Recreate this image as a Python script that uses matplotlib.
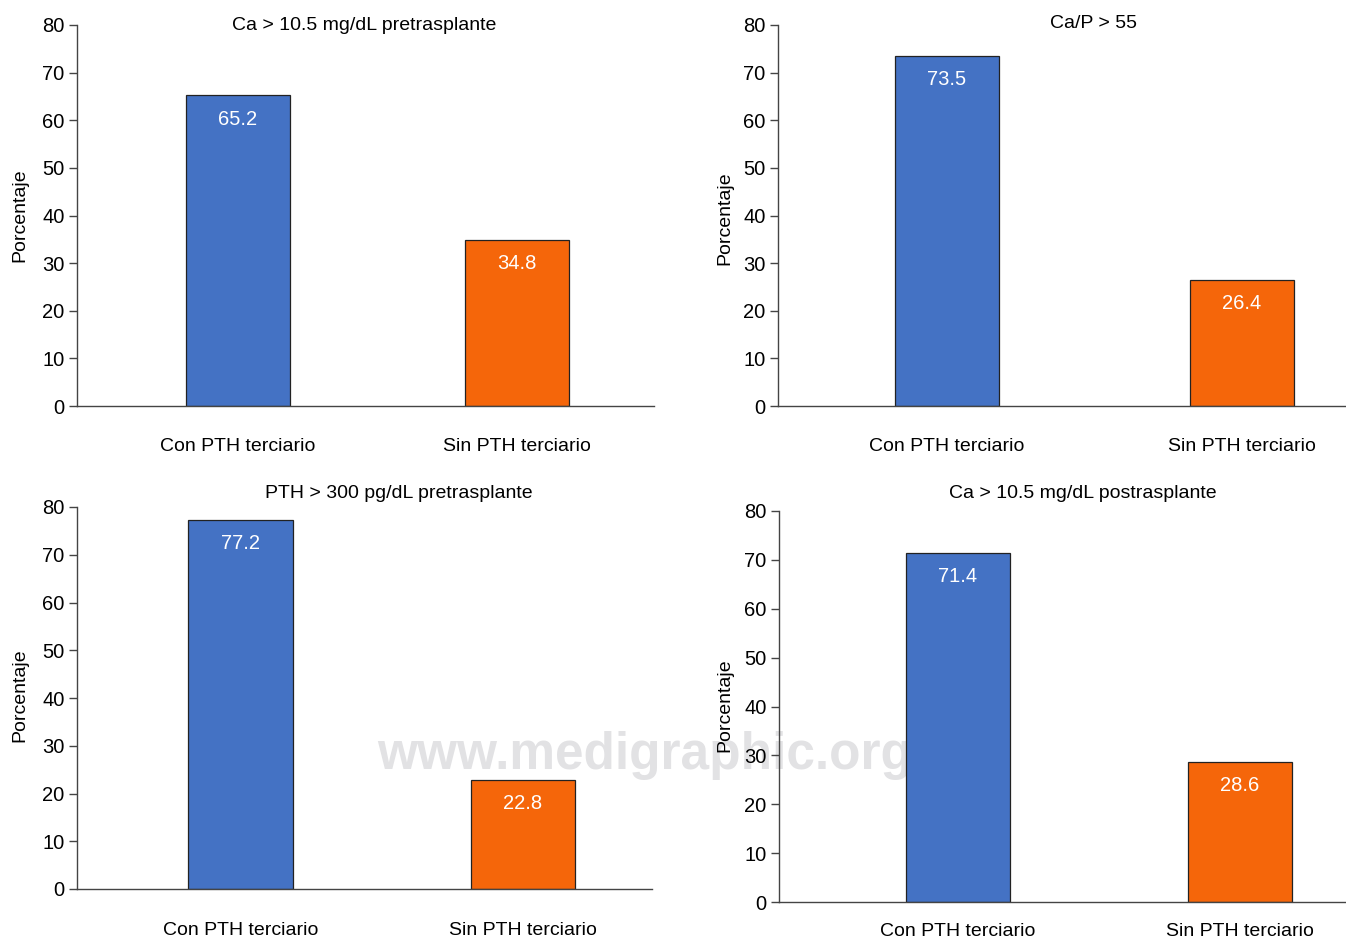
import matplotlib.pyplot as plt

plt.rcParams['font.family'] = ['Liberation Sans', 'DejaVu Sans']

# data
categories = ['Con PTH terciario', 'Sin PTH terciario']
titles = ['Ca > 10.5 mg/dL pretrasplante', 'Ca/P > 55',
          'PTH > 300 pg/dL pretrasplante', 'Ca > 10.5 mg/dL postrasplante']
con_pth = [65.2, 73.5, 77.2, 71.4]
sin_pth = [34.8, 26.4, 22.8, 28.6]
ylabel = 'Porcentaje'
watermark = 'www.medigraphic.org'

colors = ['#4472C4', '#F5660A']

W, H = 1346, 940


def fx(px):
    return px / W


def fy(py):
    return 1 - py / H


# axes boxes in pixels: left, top, right, bottom
boxes = [(77, 25, 654, 406), (778, 25, 1346, 406),
         (77, 507, 652, 889), (779, 511, 1346, 902)]
xlims = [(-0.577, 1.491), (-0.573, 1.353), (-0.58, 1.457), (-0.635, 1.376)]
widths = [0.37, 0.35, 0.37, 0.37]
xpads = [23, 23, 24, 15]
title_pos = [(364, 25), (1094, 23), (399, 493), (1083, 493)]
ylabel_pos = [(20, 215), (725, 218), (20, 695), (725, 705)]

fig = plt.figure(figsize=(W / 100, H / 100), dpi=100)

for i in range(4):
    l, t, r, b = boxes[i]
    ax = fig.add_axes([fx(l), fy(b), fx(r - l), fy(t) - fy(b)])
    ax.set_facecolor('none')
    vals = [con_pth[i], sin_pth[i]]
    bars = ax.bar(range(2), vals, width=widths[i], color=colors,
                  edgecolor='#222222', linewidth=0.9)
    for bar, v in zip(bars, vals):
        ax.annotate(f'{v:.1f}', (bar.get_x() + bar.get_width() / 2, v),
                    xytext=(0, -17), textcoords='offset points',
                    ha='center', va='center', color='white', fontsize=14.5)
    ax.set_xlim(*xlims[i])
    ax.set_ylim(0, 80)
    ax.set_yticks(range(0, 81, 10))
    ax.set_xticks(range(2))
    ax.set_xticklabels(categories)
    ax.tick_params(axis='x', length=0, pad=xpads[i], labelsize=14)
    ax.tick_params(axis='y', length=6, width=1, color='#444444',
                   labelsize=14.5, pad=3)
    for s in ['top', 'right']:
        ax.spines[s].set_visible(False)
    for s in ['left', 'bottom']:
        ax.spines[s].set_color('#444444')
        ax.spines[s].set_linewidth(1)
    tx, ty = title_pos[i]
    fig.text(fx(tx), fy(ty), titles[i], ha='center', va='center', fontsize=14)
    lx, ly = ylabel_pos[i]
    fig.text(fx(lx), fy(ly), ylabel, ha='center', va='center',
             rotation=90, fontsize=14)

fig.text(fx(645), fy(756), watermark, ha='center', va='center',
         fontsize=37, fontweight='bold', color='#E2E2E4', zorder=-1)

fig.savefig('out.png', dpi=100)
